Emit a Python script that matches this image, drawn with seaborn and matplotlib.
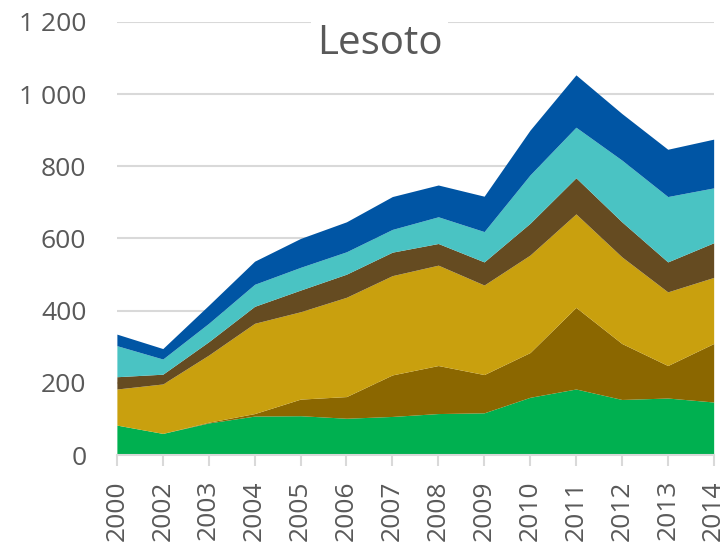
import numpy as np
import pandas as pd
import matplotlib
matplotlib.use('Agg')
import matplotlib.pyplot as plt
import seaborn as sns

# dane
lata = ['2000', '2002', '2003', '2004', '2005', '2006', '2007',
        '2008', '2009', '2010', '2011', '2012', '2013', '2014']
seria_1 = [83, 60, 89, 108, 109, 102, 107, 115, 117, 160, 183, 154, 158, 147]
seria_2 = [0, 0, 2, 7, 46, 60, 115, 133, 106, 124, 226, 155, 90, 162]
seria_3 = [100, 137, 186, 250, 242, 275, 275, 278, 248, 270, 259, 240, 204, 183]
seria_4 = [34, 27, 37, 47, 60, 64, 65, 60, 64, 88, 100, 97, 83, 96]
seria_5 = [86, 42, 51, 61, 63, 62, 63, 74, 84, 134, 140, 171, 181, 152]
seria_6 = [32, 29, 50, 64, 80, 83, 91, 88, 98, 124, 145, 129, 131, 135]

kolory = ['#00B050', '#8B6700', '#C9A00E', '#654B21', '#4AC3C3', '#0055A4']
yticks = [0, 200, 400, 600, 800, 1000, 1200]
ytick_labels = ['0', '200', '400', '600', '800', '1 000', '1 200']

df = pd.DataFrame({'rok': lata, 's1': seria_1, 's2': seria_2, 's3': seria_3,
                   's4': seria_4, 's5': seria_5, 's6': seria_6})

sns.set_style('white')
plt.rcParams['font.family'] = ['Open Sans', 'DejaVu Sans']

fig = plt.figure(figsize=(7.26, 5.45), dpi=100)
ax = fig.add_axes([0.161, 0.165, 0.822, 0.795])

x = np.arange(len(lata))
ax.stackplot(x, df['s1'], df['s2'], df['s3'], df['s4'], df['s5'], df['s6'],
             colors=kolory, linewidth=0)

ax.set_xlim(0, len(lata) - 1)
ax.set_ylim(0, 1200)
ax.set_yticks(yticks)
ax.set_yticklabels(ytick_labels)
ax.set_xticks(x)
ax.set_xticklabels(lata, rotation=90)
ax.yaxis.grid(True, color='#D9D9D9', linewidth=1.5)
ax.set_axisbelow(True)
for s in ['left', 'right', 'top']:
    ax.spines[s].set_visible(False)
ax.spines['bottom'].set_color('#D9D9D9')
ax.spines['bottom'].set_linewidth(1.5)
ax.spines['bottom'].set_zorder(5)
ax.tick_params(axis='y', length=0, labelsize=19, labelcolor='#595959', pad=22)
ax.tick_params(axis='x', length=8, width=1.5, color='#D9D9D9', labelsize=19,
               labelcolor='#595959', pad=10, bottom=True)

ax.text(0.44, 0.95, 'Lesoto', transform=ax.transAxes, ha='center', va='center',
        fontsize=29, color='#595959',
        bbox=dict(facecolor='white', edgecolor='none', pad=4))

fig.savefig('out.png', dpi=100)
